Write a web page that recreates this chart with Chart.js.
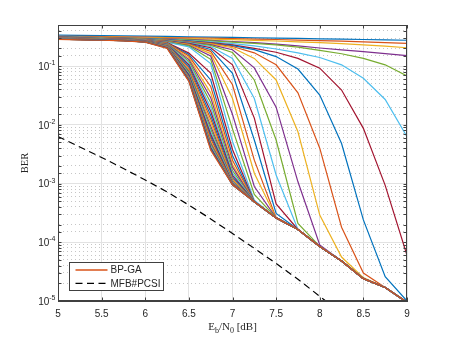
<!DOCTYPE html>
<html>
<head>
<meta charset="utf-8">
<script src="https://cdn.jsdelivr.net/npm/chart.js@4.4.0/dist/chart.umd.min.js"></script>
<style>
  html, body { margin: 0; padding: 0; background: #fff; }
  #wrap { width: 450px; height: 338px; }
</style>
</head>
<body>
<div id="wrap"><canvas id="berChart"></canvas></div>
<script>
// Eb/N0 grid of the simulation (dB)
const ebn0 = [5, 5.25, 5.5, 5.75, 6, 6.25, 6.5, 6.75, 7, 7.25, 7.5, 7.75, 8, 8.25, 8.5, 8.75, 9];

// BER of BP-GA, one row per iteration
const bpgaBer = [
  [0.335, 0.332, 0.329, 0.326, 0.323, 0.319, 0.315, 0.311, 0.307, 0.303, 0.299, 0.295, 0.291, 0.287, 0.283, 0.279, 0.275],
  [0.322, 0.319, 0.316, 0.313, 0.31, 0.306, 0.302, 0.298, 0.293, 0.288, 0.283, 0.277, 0.271, 0.265, 0.258, 0.251, 0.244],
  [0.318, 0.315, 0.311, 0.307, 0.303, 0.298, 0.293, 0.287, 0.281, 0.274, 0.267, 0.259, 0.25, 0.24, 0.23, 0.218, 0.205],
  [0.315, 0.311, 0.307, 0.302, 0.297, 0.291, 0.284, 0.274, 0.262, 0.25, 0.236, 0.22, 0.203, 0.189, 0.176, 0.163, 0.15],
  [0.313, 0.309, 0.304, 0.299, 0.293, 0.286, 0.278, 0.268, 0.256, 0.243, 0.229, 0.21, 0.185, 0.162, 0.135, 0.105, 0.068],
  [0.312, 0.307, 0.302, 0.297, 0.29, 0.282, 0.272, 0.258, 0.24, 0.22, 0.195, 0.168, 0.14, 0.105, 0.062, 0.027, 0.0063],
  [0.311, 0.306, 0.301, 0.295, 0.288, 0.279, 0.267, 0.25, 0.23, 0.2, 0.172, 0.135, 0.092, 0.039, 0.0087, 9.3e-4, 6e-5],
  [0.31, 0.305, 0.3, 0.294, 0.287, 0.278, 0.265, 0.247, 0.222, 0.19, 0.145, 0.089, 0.032, 0.0048, 2.4e-4, 2.6e-5, 1e-5],
  [0.309, 0.304, 0.299, 0.293, 0.286, 0.276, 0.262, 0.243, 0.215, 0.168, 0.105, 0.035, 0.004, 1.8e-4, 3e-5, 1.7e-5, 9.5e-6],
  [0.308, 0.303, 0.298, 0.292, 0.284, 0.274, 0.259, 0.238, 0.205, 0.135, 0.058, 0.0076, 2.9e-4, 5.6e-5, 2.5e-5, 1.7e-5, 9.5e-6],
  [0.307, 0.302, 0.297, 0.291, 0.283, 0.272, 0.256, 0.232, 0.19, 0.093, 0.02, 0.00107, 9e-5, 4.8e-5, 2.4e-5, 1.7e-5, 9.5e-6],
  [0.306, 0.301, 0.296, 0.29, 0.282, 0.27, 0.252, 0.225, 0.17, 0.058, 0.0055, 2.1e-4, 8.5e-5, 4.8e-5, 2.4e-5, 1.7e-5, 9.5e-6],
  [0.305, 0.3, 0.295, 0.289, 0.281, 0.268, 0.248, 0.215, 0.135, 0.028, 0.0014, 1.65e-4, 8.5e-5, 4.8e-5, 2.4e-5, 1.7e-5, 9.5e-6],
  [0.304, 0.299, 0.294, 0.288, 0.28, 0.266, 0.244, 0.205, 0.105, 0.013, 4.5e-4, 1.65e-4, 8.5e-5, 4.8e-5, 2.4e-5, 1.7e-5, 9.5e-6],
  [0.303, 0.298, 0.293, 0.287, 0.279, 0.264, 0.24, 0.192, 0.075, 0.0055, 3.1e-4, 1.65e-4, 8.5e-5, 4.8e-5, 2.4e-5, 1.7e-5, 9.5e-6],
  [0.302, 0.297, 0.292, 0.286, 0.278, 0.262, 0.236, 0.178, 0.048, 0.0025, 2.6e-4, 1.65e-4, 8.5e-5, 4.8e-5, 2.4e-5, 1.7e-5, 9.5e-6],
  [0.301, 0.296, 0.291, 0.285, 0.277, 0.26, 0.232, 0.163, 0.028, 0.0015, 2.6e-4, 1.65e-4, 8.5e-5, 4.8e-5, 2.4e-5, 1.7e-5, 9.5e-6],
  [0.3, 0.295, 0.29, 0.284, 0.276, 0.258, 0.226, 0.148, 0.015, 8.9e-4, 2.6e-4, 1.65e-4, 8.5e-5, 4.8e-5, 2.4e-5, 1.7e-5, 9.5e-6],
  [0.299, 0.294, 0.289, 0.283, 0.275, 0.256, 0.22, 0.13, 0.0085, 6.5e-4, 2.6e-4, 1.65e-4, 8.5e-5, 4.8e-5, 2.4e-5, 1.7e-5, 9.5e-6],
  [0.298, 0.293, 0.288, 0.282, 0.274, 0.254, 0.212, 0.11, 0.0052, 5.2e-4, 2.6e-4, 1.65e-4, 8.5e-5, 4.8e-5, 2.4e-5, 1.7e-5, 9.5e-6],
  [0.297, 0.292, 0.287, 0.281, 0.272, 0.25, 0.166, 0.076, 0.0038, 4.9e-4, 2.6e-4, 1.65e-4, 8.5e-5, 4.8e-5, 2.4e-5, 1.7e-5, 9.5e-6],
  [0.296, 0.291, 0.286, 0.28, 0.271, 0.247, 0.158, 0.058, 0.003, 4.9e-4, 2.6e-4, 1.65e-4, 8.5e-5, 4.8e-5, 2.4e-5, 1.7e-5, 9.5e-6],
  [0.296, 0.291, 0.286, 0.28, 0.27, 0.245, 0.148, 0.045, 0.0025, 4.9e-4, 2.6e-4, 1.65e-4, 8.5e-5, 4.8e-5, 2.4e-5, 1.7e-5, 9.5e-6],
  [0.295, 0.29, 0.285, 0.279, 0.269, 0.243, 0.138, 0.035, 0.0021, 4.9e-4, 2.6e-4, 1.65e-4, 8.5e-5, 4.8e-5, 2.4e-5, 1.7e-5, 9.5e-6],
  [0.295, 0.29, 0.285, 0.279, 0.268, 0.241, 0.129, 0.029, 0.0019, 4.9e-4, 2.6e-4, 1.65e-4, 8.5e-5, 4.8e-5, 2.4e-5, 1.7e-5, 9.5e-6],
  [0.294, 0.289, 0.284, 0.278, 0.267, 0.239, 0.12, 0.024, 0.00166, 4.9e-4, 2.6e-4, 1.65e-4, 8.5e-5, 4.8e-5, 2.4e-5, 1.7e-5, 9.5e-6],
  [0.294, 0.289, 0.284, 0.278, 0.266, 0.237, 0.112, 0.02, 0.0015, 4.9e-4, 2.6e-4, 1.65e-4, 8.5e-5, 4.8e-5, 2.4e-5, 1.7e-5, 9.5e-6],
  [0.293, 0.288, 0.283, 0.277, 0.265, 0.235, 0.105, 0.017, 0.00138, 4.9e-4, 2.6e-4, 1.65e-4, 8.5e-5, 4.8e-5, 2.4e-5, 1.7e-5, 9.5e-6],
  [0.293, 0.288, 0.283, 0.277, 0.264, 0.233, 0.098, 0.0145, 0.00129, 4.9e-4, 2.6e-4, 1.65e-4, 8.5e-5, 4.8e-5, 2.4e-5, 1.7e-5, 9.5e-6],
  [0.292, 0.287, 0.282, 0.276, 0.263, 0.231, 0.091, 0.0126, 0.0012, 4.9e-4, 2.6e-4, 1.65e-4, 8.5e-5, 4.8e-5, 2.4e-5, 1.7e-5, 9.5e-6],
  [0.292, 0.287, 0.282, 0.276, 0.262, 0.229, 0.085, 0.011, 0.00115, 4.9e-4, 2.6e-4, 1.65e-4, 8.5e-5, 4.8e-5, 2.4e-5, 1.7e-5, 9.5e-6],
  [0.291, 0.286, 0.281, 0.275, 0.262, 0.227, 0.081, 0.0095, 0.0011, 4.9e-4, 2.6e-4, 1.65e-4, 8.5e-5, 4.8e-5, 2.4e-5, 1.7e-5, 9.5e-6],
  [0.291, 0.286, 0.281, 0.275, 0.261, 0.225, 0.078, 0.0085, 0.00107, 4.9e-4, 2.6e-4, 1.65e-4, 8.5e-5, 4.8e-5, 2.4e-5, 1.7e-5, 9.5e-6],
  [0.29, 0.285, 0.28, 0.274, 0.261, 0.223, 0.074, 0.0076, 0.00105, 4.9e-4, 2.6e-4, 1.65e-4, 8.5e-5, 4.8e-5, 2.4e-5, 1.7e-5, 9.5e-6],
  [0.29, 0.285, 0.28, 0.274, 0.26, 0.221, 0.071, 0.0069, 0.00102, 4.9e-4, 2.6e-4, 1.65e-4, 8.5e-5, 4.8e-5, 2.4e-5, 1.7e-5, 9.5e-6],
  [0.289, 0.284, 0.279, 0.273, 0.26, 0.219, 0.068, 0.0063, 0.001, 4.9e-4, 2.6e-4, 1.65e-4, 8.5e-5, 4.8e-5, 2.4e-5, 1.7e-5, 9.5e-6],
  [0.289, 0.284, 0.279, 0.273, 0.259, 0.217, 0.065, 0.0058, 0.001, 4.9e-4, 2.6e-4, 1.65e-4, 8.5e-5, 4.8e-5, 2.4e-5, 1.7e-5, 9.5e-6],
  [0.288, 0.283, 0.278, 0.272, 0.259, 0.215, 0.063, 0.0052, 9.8e-4, 4.9e-4, 2.6e-4, 1.65e-4, 8.5e-5, 4.8e-5, 2.4e-5, 1.7e-5, 9.5e-6],
  [0.288, 0.283, 0.278, 0.272, 0.258, 0.213, 0.062, 0.0049, 9.8e-4, 4.9e-4, 2.6e-4, 1.65e-4, 8.5e-5, 4.8e-5, 2.4e-5, 1.7e-5, 9.5e-6],
  [0.287, 0.282, 0.277, 0.271, 0.258, 0.211, 0.06, 0.0046, 9.6e-4, 4.9e-4, 2.6e-4, 1.65e-4, 8.5e-5, 4.8e-5, 2.4e-5, 1.7e-5, 9.5e-6],
  [0.287, 0.282, 0.277, 0.271, 0.257, 0.208, 0.059, 0.0043, 9.5e-4, 4.9e-4, 2.6e-4, 1.65e-4, 8.5e-5, 4.8e-5, 2.4e-5, 1.7e-5, 9.5e-6],
  [0.286, 0.281, 0.276, 0.27, 0.257, 0.206, 0.058, 0.0041, 9.5e-4, 4.9e-4, 2.6e-4, 1.65e-4, 8.5e-5, 4.8e-5, 2.4e-5, 1.7e-5, 9.5e-6],
  [0.286, 0.281, 0.276, 0.27, 0.256, 0.203, 0.056, 0.0039, 9.5e-4, 4.9e-4, 2.6e-4, 1.65e-4, 8.5e-5, 4.8e-5, 2.4e-5, 1.7e-5, 9.5e-6],
  [0.285, 0.28, 0.275, 0.269, 0.255, 0.2, 0.055, 0.0037, 9.5e-4, 4.9e-4, 2.6e-4, 1.65e-4, 8.5e-5, 4.8e-5, 2.4e-5, 1.7e-5, 9.5e-6]
];

// matched filter bound with perfect CSI
const mfbBer = [6.3e-3, 4.2e-3, 2.78e-3, 1.8e-3, 1.15e-3, 7.2e-4, 4.3e-4, 2.5e-4, 1.41e-4, 7.9e-5, 4.35e-5, 2.35e-5, 1.2e-5, 6.2e-6, 3.1e-6, 1.5e-6, 7e-7];

const xTickLabels = ['5', '5.5', '6', '6.5', '7', '7.5', '8', '8.5', '9'];
const yDecadeExponents = ['-5', '-4', '-3', '-2', '-1'];
const legendLabels = ['BP-GA', 'MFB#PCSI'];

// MATLAB default line colour order
const lineColors = ['#0072BD', '#D95319', '#EDB120', '#7E2F8E', '#77AC30', '#4DBEEE', '#A2142F'];

const sansFont = 'Liberation Sans, Arial, Helvetica, sans-serif';
const serifFont = 'Liberation Serif, Times New Roman, serif';
const axisColor = '#404040';
const textColor = '#262626';

function isDecade(v) {
  if (!v) return false;
  const e = Math.log10(v);
  return Math.abs(e - Math.round(e)) < 1e-6;
}

const datasets = bpgaBer.map((row, i) => ({
  label: legendLabels[0],
  data: row.map((v, j) => ({ x: ebn0[j], y: v })),
  borderColor: lineColors[i % lineColors.length],
  borderWidth: 1.2,
  pointRadius: 0,
  tension: 0,
  fill: false,
  order: bpgaBer.length - i
}));
datasets.push({
  label: legendLabels[1],
  data: mfbBer.map((v, j) => ({ x: ebn0[j], y: v })),
  borderColor: '#000000',
  borderDash: [7, 4.5],
  borderWidth: 1.2,
  pointRadius: 0,
  tension: 0,
  fill: false,
  order: 0
});

// box, inward ticks, 10^n labels, axis titles and legend, drawn like MATLAB does
const matlabLook = {
  id: 'matlabLook',
  afterDatasetsDraw(chart) {
    const { ctx, chartArea: a, scales: { x, y } } = chart;
    ctx.save();
    ctx.strokeStyle = axisColor;
    ctx.lineWidth = 1;
    ctx.beginPath();
    x.ticks.forEach((t) => {
      const px = Math.round(x.getPixelForValue(t.value)) + 0.5;
      ctx.moveTo(px, a.bottom); ctx.lineTo(px, a.bottom - 3.5);
      ctx.moveTo(px, a.top); ctx.lineTo(px, a.top + 3.5);
    });
    y.ticks.forEach((t) => {
      const py = Math.round(y.getPixelForValue(t.value)) + 0.5;
      ctx.moveTo(a.left, py); ctx.lineTo(a.left + 3.5, py);
      ctx.moveTo(a.right, py); ctx.lineTo(a.right - 3.5, py);
    });
    ctx.stroke();
    ctx.strokeRect(a.left + 0.5, a.top + 0.5, a.right - a.left - 1, a.bottom - a.top - 1);
    ctx.restore();
  },
  afterDraw(chart) {
    const { ctx, chartArea: a, scales: { y } } = chart;
    ctx.save();

    // y tick labels 10^n with a raised exponent
    ctx.fillStyle = textColor;
    ctx.textAlign = 'right';
    ctx.textBaseline = 'alphabetic';
    y.ticks.forEach((t) => {
      if (!isDecade(t.value)) return;
      const exp = yDecadeExponents[Math.round(Math.log10(t.value)) + 5];
      if (!exp) return;
      const py = y.getPixelForValue(t.value);
      ctx.font = '7px ' + sansFont;
      const ew = ctx.measureText(exp).width;
      ctx.fillText(exp, 55.5, py - 0.8);
      ctx.font = '10px ' + sansFont;
      ctx.fillText('10', 55.5 - ew, py + 3.8);
    });

    // legend box
    const lx = 69.5, ly = 262.5, lw = 94, lh = 28;
    ctx.fillStyle = '#ffffff';
    ctx.fillRect(lx, ly, lw, lh);
    ctx.strokeStyle = axisColor;
    ctx.lineWidth = 1;
    ctx.strokeRect(lx, ly, lw, lh);
    const entries = [datasets[bpgaBer.length - 1], datasets[datasets.length - 1]];
    entries.forEach((ds, k) => {
      const yy = 270 + k * 13.3;
      ctx.strokeStyle = ds.borderColor;
      ctx.lineWidth = k === 0 ? 1.5 : 1.2;
      ctx.setLineDash(ds.borderDash || []);
      ctx.beginPath();
      ctx.moveTo(75.5, yy); ctx.lineTo(107.5, yy);
      ctx.stroke();
      ctx.setLineDash([]);
      ctx.fillStyle = textColor;
      ctx.font = '10px ' + sansFont;
      ctx.textAlign = 'left';
      ctx.textBaseline = 'middle';
      ctx.fillText(legendLabels[k], 110.5, yy + 0.5);
    });

    // x title: E_b/N_0 [dB]
    const parts = [['E', 0, 11], ['b', 3, 8], ['/N', 0, 11], ['0', 3, 8], [' [dB]', 0, 11]];
    let total = 0;
    parts.forEach((p) => { ctx.font = p[2] + 'px ' + serifFont; total += ctx.measureText(p[0]).width; });
    let cx = (a.left + a.right) / 2 - total / 2;
    ctx.fillStyle = textColor;
    ctx.textAlign = 'left';
    ctx.textBaseline = 'alphabetic';
    parts.forEach((p) => {
      ctx.font = p[2] + 'px ' + serifFont;
      ctx.fillText(p[0], cx, 329.5 + p[1]);
      cx += ctx.measureText(p[0]).width;
    });

    // y title
    ctx.translate(25.5, (a.top + a.bottom) / 2);
    ctx.rotate(-Math.PI / 2);
    ctx.font = '10.5px ' + serifFont;
    ctx.textAlign = 'center';
    ctx.textBaseline = 'middle';
    ctx.fillText('BER', 0, 0);
    ctx.restore();
  }
};

new Chart(document.getElementById('berChart'), {
  type: 'line',
  data: { datasets: datasets },
  options: {
    responsive: true,
    maintainAspectRatio: false,
    animation: false,
    devicePixelRatio: 1,
    layout: { padding: { left: 0, right: 43, top: 25, bottom: 0 } },
    plugins: {
      legend: { display: false },
      tooltip: { enabled: false }
    },
    scales: {
      x: {
        type: 'linear',
        min: 5,
        max: 9,
        afterFit: (s) => { s.height = 37; },
        grid: { color: '#e2e2e2', lineWidth: 1, drawTicks: false },
        border: { color: axisColor, width: 1 },
        ticks: {
          stepSize: 0.5,
          padding: 7,
          autoSkip: false,
          maxRotation: 0,
          color: textColor,
          font: { family: sansFont, size: 10 },
          callback: (v) => xTickLabels[Math.round((v - 5) * 2)] || ''
        }
      },
      y: {
        type: 'logarithmic',
        min: 1e-5,
        max: 0.5,
        afterFit: (s) => { s.width = 58; },
        grid: {
          drawTicks: false,
          lineWidth: 1,
          color: (c) => (c.tick && !isDecade(c.tick.value)) ? '#c6c6c6' : '#e2e2e2'
        },
        border: {
          color: axisColor,
          width: 1,
          dash: (c) => (c.tick && !isDecade(c.tick.value)) ? [1, 3] : []
        },
        ticks: {
          autoSkip: false,
          padding: 3,
          // labels are drawn by the plugin so the exponent can be raised
          callback: () => ''
        }
      }
    }
  },
  plugins: [matlabLook]
});
</script>
</body>
</html>
